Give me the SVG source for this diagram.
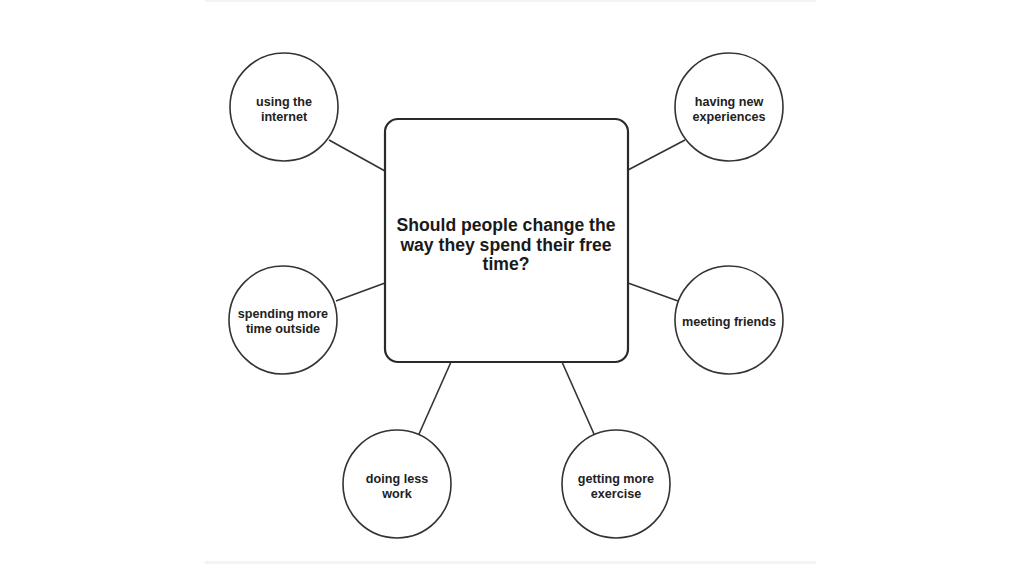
<svg xmlns="http://www.w3.org/2000/svg" width="1024" height="576" viewBox="0 0 1024 576">
  <style>
    .node { fill: #ffffff; stroke: #333333; stroke-width: 1.6; }
    .box { fill: #ffffff; stroke: #2a2a2a; stroke-width: 2.2; }
    .edge { stroke: #333333; stroke-width: 1.6; fill: none; }
    .lbl { font-family: "Liberation Sans", Arial, sans-serif; font-weight: bold; font-size: 12.6px; fill: #222222; text-anchor: middle; }
    .title { font-family: "Liberation Sans", Arial, sans-serif; font-weight: bold; font-size: 17.6px; fill: #1a1a1a; text-anchor: middle; }
    .edgebg { fill: #f3f3f3; }
  </style>
  <rect width="1024" height="576" fill="#ffffff"/>
  <rect class="edgebg" x="205" y="0" width="611" height="2"/>
  <rect class="edgebg" x="205" y="561" width="611" height="3"/>
  <g id="connectors">
    <line class="edge" x1="329" y1="140" x2="385" y2="171"/>
    <line class="edge" x1="685" y1="140" x2="628" y2="170"/>
    <line class="edge" x1="336" y1="301" x2="385" y2="283"/>
    <line class="edge" x1="628" y1="283" x2="678" y2="301"/>
    <line class="edge" x1="451" y1="362" x2="419" y2="434"/>
    <line class="edge" x1="562" y1="362" x2="594" y2="434"/>
  </g>
  <g id="center">
    <rect class="box" x="385" y="119" width="243" height="243" rx="13"/>
    <text class="title" x="506" y="231">Should people change the</text>
    <text class="title" x="506" y="251">way they spend their free</text>
    <text class="title" x="506" y="270">time?</text>
  </g>
  <g id="using-internet">
    <circle class="node" cx="284" cy="107" r="54"/>
    <text class="lbl" x="284" y="106">using the</text>
    <text class="lbl" x="284" y="121">internet</text>
  </g>
  <g id="new-experiences">
    <circle class="node" cx="729" cy="107" r="54"/>
    <text class="lbl" x="729" y="106">having new</text>
    <text class="lbl" x="729" y="121">experiences</text>
  </g>
  <g id="time-outside">
    <circle class="node" cx="283" cy="320" r="54"/>
    <text class="lbl" x="283" y="318">spending more</text>
    <text class="lbl" x="283" y="333">time outside</text>
  </g>
  <g id="meeting-friends">
    <circle class="node" cx="729" cy="320" r="54"/>
    <text class="lbl" x="729" y="326">meeting friends</text>
  </g>
  <g id="less-work">
    <circle class="node" cx="397" cy="484" r="54"/>
    <text class="lbl" x="397" y="483">doing less</text>
    <text class="lbl" x="397" y="498">work</text>
  </g>
  <g id="more-exercise">
    <circle class="node" cx="616" cy="484" r="54"/>
    <text class="lbl" x="616" y="483">getting more</text>
    <text class="lbl" x="616" y="498">exercise</text>
  </g>
</svg>
